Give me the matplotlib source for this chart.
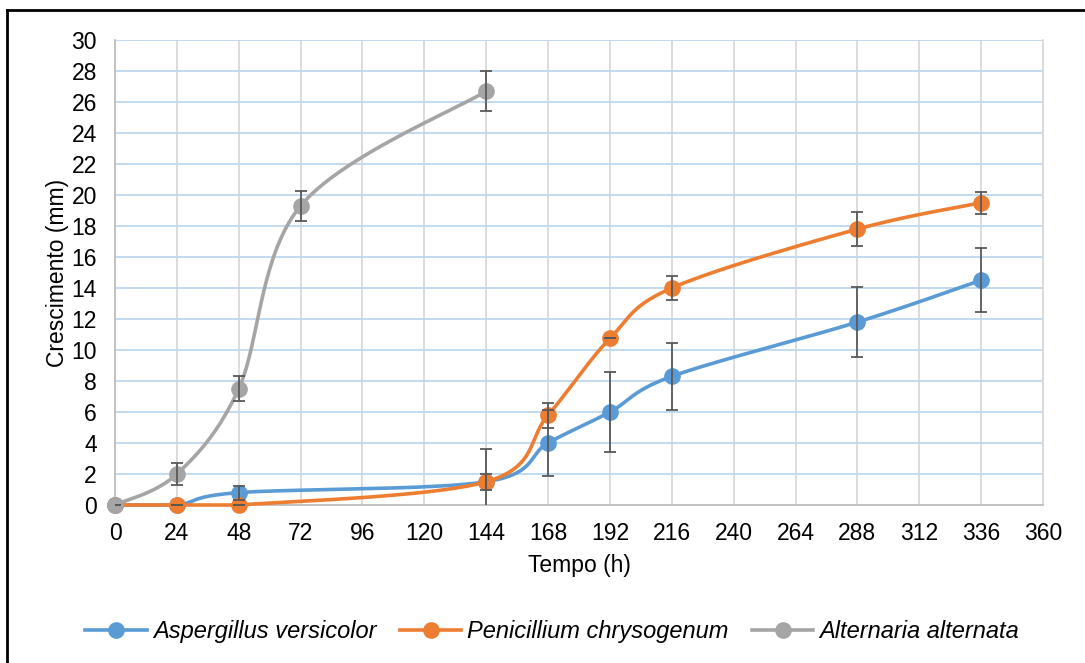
import numpy as np
import matplotlib.pyplot as plt
from matplotlib.lines import Line2D

plt.rcParams['font.family'] = ['Liberation Sans', 'DejaVu Sans']

# tempo (h) e crescimento medio (mm) com desvio
t_asp = [0, 24, 48, 144, 168, 192, 216, 288, 336]
y_asp = [0, 0, 0.8, 1.5, 4.0, 6.0, 8.3, 11.8, 14.5]
e_asp = [0, 0, 0.45, 2.1, 2.1, 2.55, 2.15, 2.27, 2.07]

t_pen = [0, 24, 48, 144, 168, 192, 216, 288, 336]
y_pen = [0, 0, 0, 1.5, 5.8, 10.75, 14.0, 17.8, 19.5]
e_pen = [0, 0, 0, 0.5, 0.8, 0, 0.8, 1.1, 0.7]

t_alt = [0, 24, 48, 72, 144]
y_alt = [0, 2.0, 7.5, 19.3, 26.7]
e_alt = [0, 0.7, 0.8, 0.95, 1.3]

names = ['Aspergillus versicolor', 'Penicillium chrysogenum', 'Alternaria alternata']
colors = ['#5B9BD5', '#ED7D31', '#A5A5A5']


def smooth(x, y, n=40):
    # curva suavizada tipo Excel (Bezier / Catmull-Rom)
    x = np.asarray(x, float)
    y = np.asarray(y, float)
    p = np.column_stack([x, y])
    pts = np.vstack([p[0], p, p[-1]])
    out = []
    s = np.linspace(0, 1, n)[:, None]
    for i in range(1, len(pts) - 2):
        p0, p3 = pts[i], pts[i + 1]
        p1 = p0 + (pts[i + 1] - pts[i - 1]) / 6
        p2 = p3 - (pts[i + 2] - pts[i]) / 6
        b = ((1 - s) ** 3) * p0 + 3 * ((1 - s) ** 2) * s * p1 + 3 * (1 - s) * s ** 2 * p2 + s ** 3 * p3
        out.append(b)
    out = np.vstack(out)
    return out[:, 0], np.maximum(out[:, 1], 0)


fig = plt.figure(figsize=(10.85, 6.63), dpi=100)
ax = fig.add_axes([0.106, 0.2383, 0.8553, 0.7014])

series = [(t_asp, y_asp, e_asp), (t_pen, y_pen, e_pen), (t_alt, y_alt, e_alt)]
for k, ((t, y, e), c) in enumerate(zip(series, colors)):
    sx, sy = smooth(t, y)
    ax.plot(sx, sy, color=c, lw=2.6, zorder=3 + k * 0.1, solid_capstyle='round', clip_on=False)
    ax.plot(t, y, 'o', color=c, ms=11, zorder=3.05 + k * 0.1, clip_on=False)
for (t, y, e), c in zip(series, colors):
    ax.errorbar(t, y, yerr=e, fmt='none', ecolor='#595959', elinewidth=1.3,
                capsize=4.5, capthick=1.3, zorder=5)

ax.set_xlim(0, 360)
ax.set_ylim(0, 30)
ax.set_xticks(range(0, 361, 24))
ax.set_yticks(range(0, 31, 2))
ax.grid(axis='x', color='#D9D9D9', lw=1.3)
ax.grid(axis='y', color='#BDD7EE', lw=1.3)
ax.set_axisbelow(True)
ax.spines['top'].set_visible(False)
ax.spines['right'].set_color('#D9D9D9')
ax.spines['right'].set_linewidth(1.3)
ax.spines['left'].set_color('#BFBFBF')
ax.spines['bottom'].set_color('#BFBFBF')
ax.spines['left'].set_linewidth(1.3)
ax.spines['bottom'].set_linewidth(1.3)
ax.tick_params(length=0, labelsize=16.5)
ax.tick_params(axis='y', pad=13)
ax.tick_params(axis='x', pad=12)
ax.set_xlabel('Tempo (h)', fontsize=16.5, labelpad=7)
ax.set_ylabel('Crescimento (mm)', fontsize=16.5, labelpad=1.5)

handles = [Line2D([], [], color=c, lw=2.6, marker='o', ms=11) for c in colors]
leg = fig.legend(handles, names, loc='center', bbox_to_anchor=(0.509, 0.047), ncol=3,
                 frameon=False, prop={'style': 'italic', 'size': 17},
                 handlelength=2.6, columnspacing=1.0, handletextpad=0.25)

# moldura
fig.add_artist(Line2D([0.0065, 1.0], [0.985, 0.985], color='black', lw=2, transform=fig.transFigure))
fig.add_artist(Line2D([0.0065, 0.0065], [0.0, 0.985], color='black', lw=2, transform=fig.transFigure))

fig.savefig('out.png', dpi=100)
